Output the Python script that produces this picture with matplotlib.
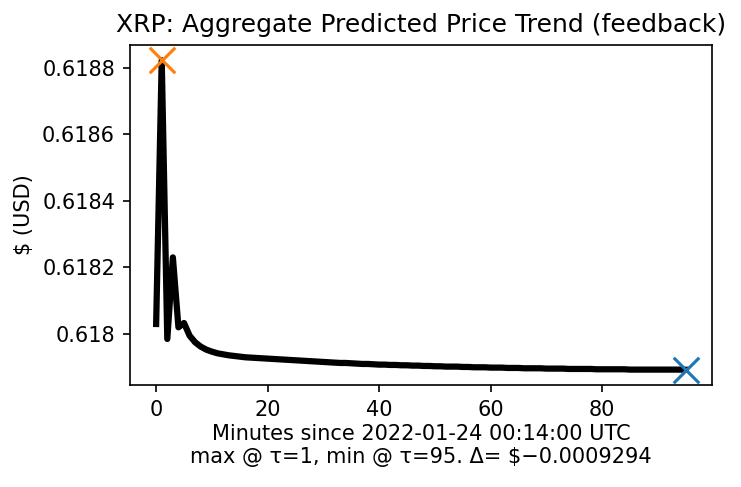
import matplotlib
matplotlib.use("Agg")
import matplotlib.pyplot as plt

prices = [0.61803, 0.618822, 0.617985, 0.61823, 0.61802, 0.618033, 0.617995, 0.617975, 0.617962, 0.617953,
          0.617947, 0.617942, 0.617939, 0.617936, 0.617934, 0.617932, 0.61793, 0.617929, 0.617928, 0.617927,
          0.617926, 0.617925, 0.617924, 0.617923, 0.617922, 0.617921, 0.61792, 0.617919, 0.617918, 0.617917,
          0.617916, 0.617915, 0.617914, 0.617913, 0.617913, 0.617912, 0.617911, 0.61791, 0.61791, 0.617909,
          0.617908, 0.617908, 0.617907, 0.617907, 0.617906, 0.617906, 0.617905, 0.617905, 0.617904, 0.617904,
          0.617903, 0.617903, 0.617902, 0.617902, 0.617902, 0.617901, 0.617901, 0.6179, 0.6179, 0.6179,
          0.617899, 0.617899, 0.617899, 0.617898, 0.617898, 0.617898, 0.617897, 0.617897, 0.617897, 0.617897,
          0.617896, 0.617896, 0.617896, 0.617896, 0.617895, 0.617895, 0.617895, 0.617895, 0.617895, 0.617894,
          0.617894, 0.617894, 0.617894, 0.617894, 0.617894, 0.617893, 0.617893, 0.617893, 0.617893, 0.617893,
          0.617893, 0.617893, 0.617893, 0.617893, 0.617893, 0.6178926]
minutes = list(range(len(prices)))
imax = prices.index(max(prices))
imin = len(prices) - 1

fig, ax = plt.subplots(figsize=(741/150, 487/150), dpi=150)
ax.plot(minutes, prices, color="black", lw=3)
ax.scatter([minutes[imax]], [prices[imax]], marker="x", s=150, color="#ff7f0e", lw=1.5, zorder=3)
ax.scatter([minutes[imin]], [prices[imin]], marker="x", s=150, color="#1f77b4", lw=1.5, zorder=3)
ax.set_title("XRP: Aggregate Predicted Price Trend (feedback)", fontsize=12)
ax.set_ylabel("$ (USD)", fontsize=10)
ax.set_xlabel("Minutes since 2022-01-24 00:14:00 UTC\nmax @ τ=1, min @ τ=95. Δ= $\u22120.0009294", fontsize=10, labelpad=2)
ax.set_yticks([0.618, 0.6182, 0.6184, 0.6186, 0.6188])
ax.set_yticklabels(["0.618", "0.6182", "0.6184", "0.6186", "0.6188"])
plt.subplots_adjust(left=0.175, right=0.961, top=0.908, bottom=0.209)
fig.savefig("out.png", dpi=150)
